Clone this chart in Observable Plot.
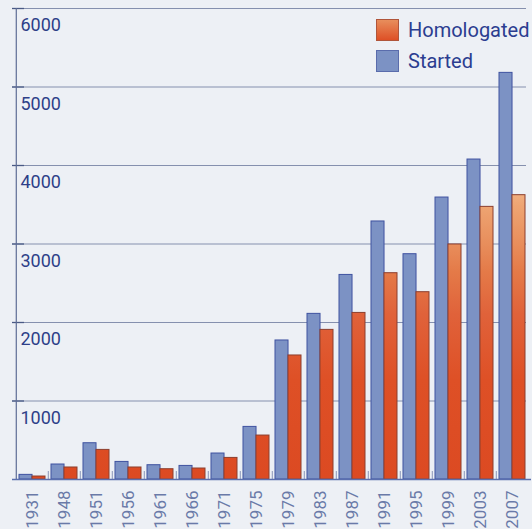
<!DOCTYPE html>
<html><head><meta charset="utf-8">
<script src="https://cdn.jsdelivr.net/npm/d3@7"></script>
<script src="https://cdn.jsdelivr.net/npm/@observablehq/plot@0.6"></script>
<style>
html,body{margin:0;padding:0;background:#edf0f5;}
#wrap{position:relative;width:532px;height:529px;overflow:hidden;background:#edf0f5;}
#wrap svg{display:block;}
.legend{position:absolute;left:376px;top:14px;font-family:Roboto,sans-serif;font-size:20px;color:#2b3d90;}
.item{display:flex;align-items:center;height:31px;white-space:nowrap;}
.sw{width:23px;height:22px;margin-right:9px;box-sizing:border-box;flex:none;}
</style></head><body><div id="wrap"></div>
<script>
const years = ["1931","1948","1951","1956","1961","1966","1971","1975","1979","1983","1987","1991","1995","1999","2003","2007"];
const started = [59,191,462,224,182,173,331,670,1771,2110,2606,3287,2870,3592,4076,5180];
const homologated = [38,153,377,153,131,140,275,560,1580,1906,2122,2628,2386,2994,3473,3622];
const seriesNames = ["Homologated","Started"];
const yTicks = [1000,2000,3000,4000,5000,6000];

const W = 532, H = 529, mL = 12, mR = 1, mT = 8, mB = 50;
const pIn = 0.2, pOut = 0.1;
const step = (W - mL - mR) / (years.length - pIn + 2 * pOut);
const bw = step * (1 - pIn);

const data = years.map((y, i) => ({year: y, started: started[i], homologated: homologated[i]}));

const defs = () => {
  const s = d3.create("svg:defs");
  const g = s.append("linearGradient").attr("id", "orangeGrad")
    .attr("gradientUnits", "userSpaceOnUse")
    .attr("x1", 0).attr("x2", 0).attr("y1", H - mB).attr("y2", mT);
  [[0,"#dc4a22"],[0.21,"#de5026"],[0.35,"#e0623a"],[0.44,"#e47a48"],[0.5,"#e88e5c"],[0.58,"#eea472"],[0.6,"#f0ac7c"],[1,"#f4c09a"]]
    .forEach(([o,c]) => g.append("stop").attr("offset", o).attr("stop-color", c));
  return s.node();
};

const chart = Plot.plot({
  width: W, height: H,
  marginLeft: mL, marginRight: mR, marginTop: mT, marginBottom: mB,
  style: {background: "transparent", fontFamily: "Roboto, sans-serif"},
  x: {domain: years, paddingInner: pIn, paddingOuter: pOut, label: null, axis: null},
  y: {domain: [0, 6000], label: null, axis: null},
  marks: [
    defs,
    Plot.ruleY(yTicks, {stroke: "#8590ae", strokeWidth: 1, insetRight: 5}),
    Plot.ruleY(yTicks, {stroke: "#4a5a85", strokeWidth: 1.3, insetRight: W - mL - mR - 12}),
    Plot.ruleX(years.slice(1), {stroke: "#8a96b8", strokeWidth: 1, dx: -step / 2, insetTop: H - mT - mB - 8}),
    Plot.barY(data, {x: "year", y: "started", fill: "#7c92c4", stroke: "#3f52a0", strokeWidth: 1, insetRight: bw / 2}),
    Plot.barY(data, {x: "year", y: "homologated", fill: "url(#orangeGrad)", stroke: "#8c3f2e", strokeWidth: 1, insetLeft: bw / 2}),
    Plot.ruleX(years.slice(0, 1), {stroke: "#5d6b95", strokeWidth: 1.2, dx: -step / 2}),
    Plot.ruleY([0], {stroke: "#5b6fae", strokeWidth: 1.6}),
    Plot.text(yTicks, {y: d => d, text: d => String(d), frameAnchor: "left", textAnchor: "start", lineAnchor: "top", dx: 8, dy: 10, fontSize: 18, fill: "#2e3f88"}),
    Plot.axisX({tickSize: 0, tickPadding: 11, tickRotate: -90, fontSize: 17, fill: "#6a7aa8", label: null})
  ]
});

const wrap = document.getElementById("wrap");
wrap.appendChild(chart);

const legend = document.createElement("div");
legend.className = "legend";
const swatchFill = {Homologated: "linear-gradient(#e88e5c, #de5026)", Started: "#7c92c4"};
const swatchStroke = {Homologated: "#b0553a", Started: "#5a6cac"};
seriesNames.forEach(n => {
  const it = document.createElement("div"); it.className = "item";
  const sw = document.createElement("div"); sw.className = "sw";
  sw.style.background = swatchFill[n]; sw.style.border = "1px solid " + swatchStroke[n];
  const t = document.createElement("span"); t.textContent = n;
  it.appendChild(sw); it.appendChild(t); legend.appendChild(it);
});
wrap.appendChild(legend);
</script></body></html>
